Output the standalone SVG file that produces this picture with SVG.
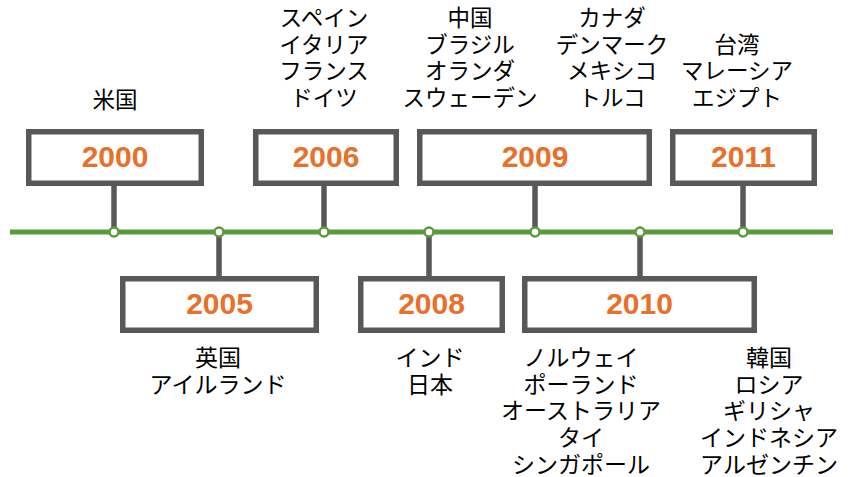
<svg xmlns="http://www.w3.org/2000/svg" width="851" height="477" viewBox="0 0 851 477">
<style>
.box{fill:#fff;stroke:#58585a;stroke-width:5.5}
.conn{stroke:#58585a;stroke-width:5.5;fill:none}
.axis{stroke:#5b9a3c;stroke-width:5;fill:none}
.dot{fill:#fff;stroke:#5b9a3c;stroke-width:2.5}
.yr{font-family:"Liberation Sans",Arial,sans-serif;font-weight:bold;font-size:30px;fill:#e8702a;text-anchor:middle}
.lb{font-family:"Noto Sans CJK JP","Noto Sans",sans-serif;font-size:22.5px;fill:#000;text-anchor:middle}
.lb2{font-size:23px}
</style>
<rect width="851" height="477" fill="#fff"/>
<g id="connectors">
<line class="axis" x1="10" y1="232" x2="833" y2="232"/>
<line class="conn" x1="114" y1="185" x2="114" y2="232"/>
<line class="conn" x1="219" y1="232" x2="219" y2="278"/>
<line class="conn" x1="324" y1="185" x2="324" y2="232"/>
<line class="conn" x1="429" y1="232" x2="429" y2="278"/>
<line class="conn" x1="535" y1="185" x2="535" y2="232"/>
<line class="conn" x1="640" y1="232" x2="640" y2="278"/>
<line class="conn" x1="743" y1="185" x2="743" y2="232"/>
<circle class="dot" cx="114" cy="232" r="4.5"/>
<circle class="dot" cx="219" cy="232" r="4.5"/>
<circle class="dot" cx="324" cy="232" r="4.5"/>
<circle class="dot" cx="429" cy="232" r="4.5"/>
<circle class="dot" cx="535" cy="232" r="4.5"/>
<circle class="dot" cx="640" cy="232" r="4.5"/>
<circle class="dot" cx="743" cy="232" r="4.5"/>
</g>
<g id="n2000">
<rect class="box" x="28.75" y="131.75" width="172.5" height="51.5"/>
<text class="yr" x="115" y="167">2000</text>
<text class="lb" x="115" y="108">米国</text>
</g>
<g id="n2005">
<rect class="box" x="122.75" y="278.75" width="193.5" height="51.5"/>
<text class="yr" x="219.5" y="314">2005</text>
<text class="lb lb2" x="218"><tspan x="218" y="366">英国</tspan><tspan x="218" y="392.7">アイルランド</tspan></text>
</g>
<g id="n2006">
<rect class="box" x="255.75" y="131.75" width="140.5" height="51.5"/>
<text class="yr" x="326" y="167">2006</text>
<text class="lb" x="324"><tspan x="324" y="26">スペイン</tspan><tspan x="324" y="52.7">イタリア</tspan><tspan x="324" y="79.4">フランス</tspan><tspan x="324" y="106">ドイツ</tspan></text>
</g>
<g id="n2008">
<rect class="box" x="360.75" y="278.75" width="141.5" height="51.5"/>
<text class="yr" x="431.5" y="314">2008</text>
<text class="lb lb2" x="430"><tspan x="430" y="366">インド</tspan><tspan x="430" y="392.7">日本</tspan></text>
</g>
<g id="n2009">
<rect class="box" x="419.75" y="131.75" width="229.5" height="51.5"/>
<text class="yr" x="535" y="167">2009</text>
<text class="lb" x="470"><tspan x="470" y="26">中国</tspan><tspan x="470" y="52.7">ブラジル</tspan><tspan x="470" y="79.4">オランダ</tspan><tspan x="470" y="106">スウェーデン</tspan></text>
<text class="lb" x="612"><tspan x="612" y="26">カナダ</tspan><tspan x="612" y="52.7">デンマーク</tspan><tspan x="612" y="79.4">メキシコ</tspan><tspan x="612" y="106">トルコ</tspan></text>
</g>
<g id="n2010">
<rect class="box" x="524.75" y="278.75" width="229.5" height="51.5"/>
<text class="yr" x="639.5" y="314">2010</text>
<text class="lb lb2" x="581"><tspan x="581" y="366">ノルウェイ</tspan><tspan x="581" y="392.7">ポーランド</tspan><tspan x="581" y="419.4">オーストラリア</tspan><tspan x="581" y="446">タイ</tspan><tspan x="581" y="472.5">シンガポール</tspan></text>
<text class="lb lb2" x="769"><tspan x="769" y="366">韓国</tspan><tspan x="769" y="392.7">ロシア</tspan><tspan x="769" y="419.4">ギリシャ</tspan><tspan x="769" y="446">インドネシア</tspan><tspan x="769" y="472.5">アルゼンチン</tspan></text>
</g>
<g id="n2011">
<rect class="box" x="672.75" y="131.75" width="141.5" height="51.5"/>
<text class="yr" x="743.5" y="167">2011</text>
<text class="lb" x="737"><tspan x="737" y="52.7">台湾</tspan><tspan x="737" y="79.4">マレーシア</tspan><tspan x="737" y="106">エジプト</tspan></text>
</g>
</svg>
